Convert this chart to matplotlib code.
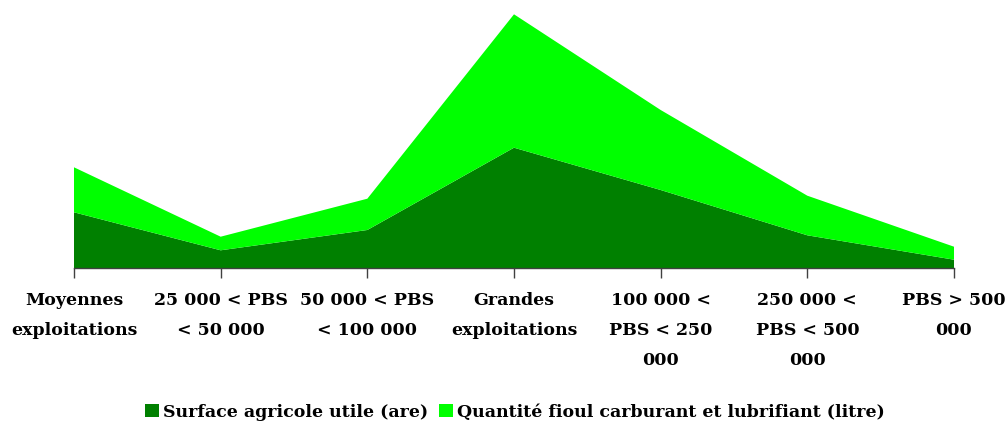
import matplotlib
matplotlib.use("Agg")
import matplotlib.pyplot as plt
from matplotlib.patches import Patch
import numpy as np

categories = ["Moyennes\nexploitations", "25 000 < PBS\n< 50 000", "50 000 < PBS\n< 100 000",
              "Grandes\nexploitations", "100 000 <\nPBS < 250\n000", "250 000 <\nPBS < 500\n000",
              "PBS > 500\n000"]
surface = [55.7, 17.7, 38.0, 120.3, 78.0, 32.7, 8.3]
fioul = [45.0, 13.6, 31.3, 133.4, 80.0, 39.6, 13.0]
series_names = ["Surface agricole utile (are)", "Quantité fioul carburant et lubrifiant (litre)"]
colors = ["#008000", "#00FF00"]

plt.rcParams['font.family'] = ['DejaVu Serif', 'Liberation Serif']

fig = plt.figure(figsize=(10.06, 4.23), dpi=100)
ax = fig.add_axes([74/1006, (423-268)/423, (954-74)/1006, 254/423])
x = np.arange(len(categories))
ax.stackplot(x, surface, fioul, colors=colors, linewidth=0)
ax.set_xlim(0, len(categories)-1)
ax.set_ylim(0, 254)
for s in ['top', 'right', 'left']:
    ax.spines[s].set_visible(False)
ax.spines['bottom'].set_color('#404040')
ax.spines['bottom'].set_linewidth(1.0)
ax.set_yticks([])
ax.set_xticks(x)
ax.set_xticklabels(categories, fontsize=12.5, fontweight='bold', linespacing=2.0)
ax.tick_params(axis='x', direction='out', length=7, width=1, color='#404040', pad=10)

handles = [Patch(facecolor=c, edgecolor='none') for c in colors]
fig.legend(handles, series_names, loc='center', bbox_to_anchor=(0.512, 1-412/423), ncol=2,
           frameon=False, prop={'size': 12.5, 'weight': 'bold'}, handlelength=0.8,
           handleheight=0.8, handletextpad=0.25, columnspacing=0.6)
fig.savefig("out.png", dpi=100)
